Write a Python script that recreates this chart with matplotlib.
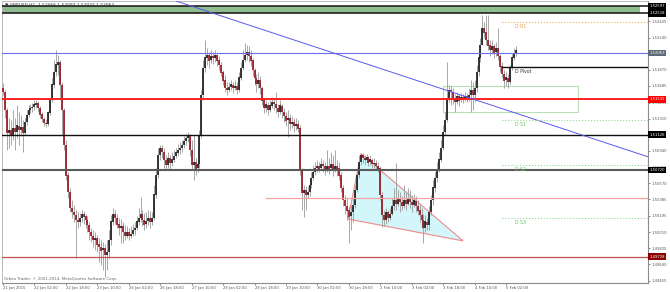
"""
GBPUSD H1 chart (MetaTrader style) with support/resistance lines,
daily pivots, a falling wedge triangle and a descending trend line.
"""

import matplotlib
matplotlib.use('Agg')
import matplotlib.pyplot as plt
from matplotlib.patches import Polygon, Rectangle
import numpy as np

header_text = "\u25bc GBPUSD,H1  1.52066 1.52093 1.52032 1.52063"
copyright_text = "Orbex Trader, \u00a9 2001-2014, MetaQuotes Software Corp."

# hourly bars, open of each bar = close of the previous one
first_open = 1.5166
closes = [
    1.5162, 1.5141, 1.5115, 1.5118, 1.5112, 1.5120, 1.5116, 1.5123, 1.5118, 1.5121,
    1.5115, 1.5127, 1.5135, 1.5141, 1.5143, 1.5144, 1.5147, 1.5149, 1.5143, 1.5136,
    1.5131, 1.5126, 1.5125, 1.5138, 1.5152, 1.5170, 1.5184, 1.5193, 1.5196, 1.5170,
    1.5141, 1.5101, 1.5066, 1.5047, 1.5029, 1.5024, 1.5021, 1.5015, 1.5013, 1.5017,
    1.5022, 1.5019, 1.5015, 1.5009, 1.5001, 1.4997, 1.4992, 1.4994, 1.4987, 1.4984,
    1.4980, 1.4983, 1.4975, 1.4978, 1.4992, 1.5013, 1.5022, 1.5017, 1.5010, 1.5006,
    1.5008, 1.5001, 1.4997, 1.5001, 1.4997, 1.4999, 1.5003, 1.5006, 1.5013, 1.5017,
    1.5022, 1.5015, 1.5010, 1.5014, 1.5017, 1.5013, 1.5017, 1.5044, 1.5066, 1.5089,
    1.5097, 1.5093, 1.5084, 1.5078, 1.5086, 1.5080, 1.5084, 1.5088, 1.5092, 1.5095,
    1.5097, 1.5101, 1.5105, 1.5109, 1.5111, 1.5095, 1.5078, 1.5081, 1.5074, 1.5079,
    1.5112, 1.5158, 1.5189, 1.5201, 1.5204, 1.5198, 1.5203, 1.5201, 1.5204, 1.5198,
    1.5193, 1.5184, 1.5175, 1.5166, 1.5164, 1.5167, 1.5170, 1.5166, 1.5168, 1.5164,
    1.5178, 1.5189, 1.5198, 1.5204, 1.5207, 1.5203, 1.5198, 1.5187, 1.5178, 1.5171,
    1.5175, 1.5166, 1.5152, 1.5143, 1.5147, 1.5141, 1.5146, 1.5150, 1.5148, 1.5143,
    1.5139, 1.5146, 1.5139, 1.5134, 1.5129, 1.5132, 1.5125, 1.5127, 1.5123, 1.5125,
    1.5120, 1.5072, 1.5046, 1.5049, 1.5044, 1.5047, 1.5055, 1.5063, 1.5070, 1.5074,
    1.5077, 1.5074, 1.5079, 1.5077, 1.5072, 1.5077, 1.5074, 1.5079, 1.5072, 1.5077,
    1.5074, 1.5066, 1.5052, 1.5038, 1.5031, 1.5026, 1.5019, 1.5024, 1.5032, 1.5049,
    1.5066, 1.5081, 1.5089, 1.5086, 1.5084, 1.5087, 1.5081, 1.5084, 1.5079, 1.5080,
    1.5077, 1.5074, 1.5044, 1.5021, 1.5015, 1.5024, 1.5017, 1.5022, 1.5031, 1.5038,
    1.5033, 1.5040, 1.5036, 1.5031, 1.5038, 1.5033, 1.5040, 1.5036, 1.5032, 1.5037,
    1.5031, 1.5026, 1.5021, 1.5015, 1.5006, 1.5013, 1.5009, 1.5024, 1.5038, 1.5052,
    1.5063, 1.5072, 1.5084, 1.5097, 1.5116, 1.5129, 1.5155, 1.5164, 1.5162, 1.5155,
    1.5150, 1.5157, 1.5152, 1.5156, 1.5154, 1.5157, 1.5155, 1.5158, 1.5164, 1.5158,
    1.5166, 1.5184, 1.5201, 1.5215, 1.5235, 1.5230, 1.5221, 1.5215, 1.5210, 1.5214,
    1.5207, 1.5212, 1.5203, 1.5191, 1.5182, 1.5175, 1.5178, 1.5173, 1.5189, 1.5201,
    1.5205, 1.5209,
]
highs = [
    1.5172, 1.5164, 1.5143, 1.5132, 1.5129, 1.5141, 1.5132, 1.5147, 1.5139, 1.5135,
    1.5129, 1.5132, 1.5141, 1.5147, 1.5148, 1.5149, 1.5152, 1.5152, 1.5151, 1.5146,
    1.5139, 1.5133, 1.5131, 1.5140, 1.5155, 1.5178, 1.5198, 1.5210, 1.5204, 1.5198,
    1.5173, 1.5143, 1.5107, 1.5070, 1.5052, 1.5038, 1.5032, 1.5026, 1.5024, 1.5023,
    1.5026, 1.5025, 1.5022, 1.5019, 1.5013, 1.5006, 1.5003, 1.5001, 1.4998, 1.4994,
    1.4992, 1.4990, 1.4987, 1.4992, 1.5003, 1.5021, 1.5029, 1.5026, 1.5022, 1.5017,
    1.5016, 1.5013, 1.5009, 1.5008, 1.5006, 1.5008, 1.5010, 1.5013, 1.5019, 1.5029,
    1.5041, 1.5026, 1.5023, 1.5024, 1.5026, 1.5025, 1.5024, 1.5055, 1.5074, 1.5097,
    1.5101, 1.5101, 1.5097, 1.5089, 1.5093, 1.5089, 1.5093, 1.5095, 1.5097, 1.5102,
    1.5104, 1.5107, 1.5111, 1.5113, 1.5116, 1.5113, 1.5107, 1.5112, 1.5086, 1.5084,
    1.5118, 1.5164, 1.5198, 1.5221, 1.5212, 1.5207, 1.5210, 1.5207, 1.5210, 1.5205,
    1.5203, 1.5196, 1.5187, 1.5181, 1.5173, 1.5173, 1.5175, 1.5173, 1.5175, 1.5173,
    1.5184, 1.5196, 1.5210, 1.5218, 1.5215, 1.5214, 1.5210, 1.5201, 1.5189, 1.5182,
    1.5184, 1.5180, 1.5168, 1.5155, 1.5152, 1.5150, 1.5152, 1.5156, 1.5155, 1.5162,
    1.5148, 1.5152, 1.5148, 1.5143, 1.5139, 1.5141, 1.5136, 1.5134, 1.5132, 1.5132,
    1.5129, 1.5124, 1.5074, 1.5055, 1.5054, 1.5054, 1.5061, 1.5070, 1.5078, 1.5081,
    1.5084, 1.5081, 1.5086, 1.5084, 1.5081, 1.5095, 1.5086, 1.5093, 1.5089, 1.5095,
    1.5084, 1.5081, 1.5070, 1.5055, 1.5044, 1.5040, 1.5031, 1.5032, 1.5040, 1.5055,
    1.5072, 1.5089, 1.5092, 1.5092, 1.5089, 1.5091, 1.5088, 1.5089, 1.5086, 1.5086,
    1.5084, 1.5081, 1.5077, 1.5047, 1.5026, 1.5029, 1.5026, 1.5029, 1.5040, 1.5052,
    1.5080, 1.5049, 1.5047, 1.5042, 1.5055, 1.5047, 1.5052, 1.5049, 1.5044, 1.5045,
    1.5042, 1.5038, 1.5032, 1.5029, 1.5022, 1.5021, 1.5017, 1.5031, 1.5044, 1.5061,
    1.5070, 1.5081, 1.5093, 1.5107, 1.5124, 1.5139, 1.5196, 1.5170, 1.5168, 1.5166,
    1.5159, 1.5162, 1.5159, 1.5160, 1.5159, 1.5162, 1.5160, 1.5166, 1.5175, 1.5173,
    1.5175, 1.5193, 1.5207, 1.5223, 1.5250, 1.5242, 1.5250, 1.5250, 1.5221, 1.5221,
    1.5217, 1.5219, 1.5235, 1.5205, 1.5196, 1.5187, 1.5184, 1.5182, 1.5193, 1.5205,
    1.5212, 1.5214,
]
lows = [
    1.5158, 1.5132, 1.5095, 1.5097, 1.5101, 1.5107, 1.5095, 1.5109, 1.5101, 1.5111,
    1.5093, 1.5112, 1.5124, 1.5133, 1.5138, 1.5139, 1.5141, 1.5143, 1.5139, 1.5132,
    1.5127, 1.5123, 1.5121, 1.5123, 1.5135, 1.5150, 1.5166, 1.5180, 1.5181, 1.5152,
    1.5112, 1.5095, 1.5061, 1.5040, 1.5024, 1.5017, 1.5013, 1.4971, 1.5006, 1.5008,
    1.5013, 1.5010, 1.5006, 1.5001, 1.4992, 1.4990, 1.4984, 1.4980, 1.4978, 1.4967,
    1.4963, 1.4958, 1.4950, 1.4958, 1.4971, 1.4986, 1.5009, 1.5010, 1.5006, 1.4998,
    1.4989, 1.4989, 1.4992, 1.4994, 1.4992, 1.4994, 1.4997, 1.4998, 1.5003, 1.5009,
    1.5013, 1.5008, 1.5003, 1.5006, 1.5009, 1.5006, 1.5009, 1.5015, 1.5040, 1.5063,
    1.5084, 1.5086, 1.5074, 1.5072, 1.5074, 1.5072, 1.5077, 1.5081, 1.5086, 1.5088,
    1.5091, 1.5093, 1.5097, 1.5101, 1.5104, 1.5088, 1.5072, 1.5061, 1.5066, 1.5070,
    1.5074, 1.5109, 1.5152, 1.5184, 1.5193, 1.5189, 1.5195, 1.5194, 1.5196, 1.5191,
    1.5187, 1.5180, 1.5170, 1.5162, 1.5158, 1.5162, 1.5164, 1.5160, 1.5164, 1.5159,
    1.5162, 1.5175, 1.5187, 1.5196, 1.5198, 1.5196, 1.5191, 1.5180, 1.5170, 1.5162,
    1.5166, 1.5159, 1.5147, 1.5138, 1.5139, 1.5135, 1.5139, 1.5143, 1.5141, 1.5138,
    1.5133, 1.5136, 1.5132, 1.5127, 1.5123, 1.5110, 1.5118, 1.5120, 1.5116, 1.5118,
    1.5116, 1.5066, 1.5026, 1.5018, 1.5026, 1.5040, 1.5042, 1.5052, 1.5061, 1.5066,
    1.5070, 1.5070, 1.5072, 1.5070, 1.5066, 1.5070, 1.5068, 1.5072, 1.5065, 1.5070,
    1.5065, 1.5061, 1.5047, 1.5031, 1.5022, 1.5015, 1.4989, 1.5003, 1.5013, 1.5029,
    1.5047, 1.5063, 1.5078, 1.5080, 1.5078, 1.5081, 1.5077, 1.5078, 1.5074, 1.5074,
    1.5072, 1.5070, 1.5038, 1.5007, 1.5008, 1.5010, 1.5013, 1.5015, 1.5021, 1.5026,
    1.5026, 1.5031, 1.5024, 1.5026, 1.5029, 1.5026, 1.5032, 1.5029, 1.5024, 1.5030,
    1.5024, 1.5021, 1.5013, 1.5006, 1.4989, 1.5001, 1.5003, 1.5003, 1.5021, 1.5032,
    1.5047, 1.5058, 1.5070, 1.5081, 1.5095, 1.5112, 1.5127, 1.5150, 1.5147, 1.5148,
    1.5139, 1.5148, 1.5146, 1.5150, 1.5149, 1.5151, 1.5150, 1.5151, 1.5139, 1.5141,
    1.5150, 1.5162, 1.5180, 1.5196, 1.5215, 1.5223, 1.5215, 1.5210, 1.5203, 1.5205,
    1.5201, 1.5203, 1.5198, 1.5184, 1.5178, 1.5166, 1.5168, 1.5166, 1.5171, 1.5187,
    1.5198, 1.5203,
]

time_labels = ["21 Jan 2015", "22 Jan 02:00", "22 Jan 18:00", "23 Jan 10:00",
               "26 Jan 02:00", "26 Jan 18:00", "27 Jan 10:00", "28 Jan 02:00",
               "28 Jan 18:00", "29 Jan 10:00", "30 Jan 02:00", "30 Jan 18:00",
               "2 Feb 10:00", "3 Feb 02:00", "3 Feb 18:00", "4 Feb 10:00",
               "5 Feb 02:00"]
bars_per_label = 16

price_ticks = [1.49455, 1.49640, 1.49825, 1.50010, 1.50195, 1.50385, 1.50570,
               1.50755, 1.50940, 1.51125, 1.51310, 1.51495, 1.51685, 1.51870,
               1.52055, 1.52240, 1.52425]
# scale labels that sit under a price box in the reference
hidden_ticks = [1.51125, 1.52055]

# resistance band at the top
band_top = 1.52597
band_bottom = 1.52518
band_end_bar = 324

bid_price = 1.52063

# horizontal levels
level_prices = [1.51532, 1.51126, 1.50720, 1.49728]
level_colors = ['#ff2020', '#111111', '#5a5a5a', '#c0504d']
level_boxes = ['#ff0000', '#000000', '#000000', '#8b0000']
level_widths = [1.4, 1.0, 1.5, 0.9]

# daily pivots, drawn from the start of 5 Feb
pivot_start_bar = 254
pivot_names = ["D R1", "D Pivot", "D S1", "D S2", "D S3"]
pivot_prices = [1.5242, 1.5190, 1.5129, 1.5078, 1.5017]

# drawn objects (bar index, price)
trend_p1 = (90.6, 1.5264)
trend_p2 = (328.7, 1.5087)
wedge = [(182.2, 1.5091), (175.6, 1.5016), (234.1, 1.4991)]
pink_start_bar = 133.8
pink_price = 1.5040
box_bars = (223.9, 292.6)
box_prices = (1.5139, 1.5168)

W, H = 670, 292
fig = plt.figure(figsize=(W / 100, H / 100), dpi=100, facecolor='white')
ax = fig.add_axes([2 / W, 9 / H, 646 / W, 282 / H], facecolor='white')
ax.set_xlim(-0.5, 328.25)
ax.set_ylim(1.49427, 1.52659)

closes = np.array(closes)
highs = np.array(highs)
lows = np.array(lows)
opens = np.r_[first_open, closes[:-1]]
idx = np.arange(len(closes))
up = closes >= opens

# background objects
ax.add_patch(Rectangle((-0.5, band_bottom), band_end_bar + 0.5, band_top - band_bottom,
                       facecolor='#8fbc8f', edgecolor='none', zorder=1))
ax.add_patch(Polygon(wedge, closed=True, facecolor='#d2f6fa', edgecolor='#f08a8a',
                     lw=0.8, zorder=1))
ax.add_patch(Rectangle((box_bars[0], box_prices[0]), box_bars[1] - box_bars[0],
                       box_prices[1] - box_prices[0], facecolor='none',
                       edgecolor='#b8deb4', lw=0.8, zorder=1))

# candles
ax.vlines(idx, lows, highs, color='#9a9a9a', lw=0.6, zorder=3)
ax.vlines(idx[up], opens[up], closes[up] + 0.00003, color='#1e1e1e', lw=1.25, zorder=4)
ax.vlines(idx[~up], closes[~up] - 0.00003, opens[~up], color='#951a22', lw=1.25, zorder=4)

# lines
for p in (band_top, band_bottom):
    ax.axhline(p, color='#111111', lw=1.1, zorder=5)
ax.axhline(bid_price, color='#6d6df0', lw=0.8, zorder=5)
for p, c, w in zip(level_prices, level_colors, level_widths):
    ax.axhline(p, color=c, lw=w, zorder=5)
ax.plot([pink_start_bar, 330], [pink_price, pink_price], color='#f4a3a3', lw=0.9, zorder=5)
ax.axline(trend_p1, trend_p2, color='#5a5af0', lw=0.7, zorder=5)

pivot_styles = [('#f5b35a', ':', '#f0a040'), ('#111111', '-', '#333333'),
                ('#8fdc8f', ':', '#66c466'), ('#8fdc8f', ':', '#66c466'),
                ('#8fdc8f', ':', '#66c466')]
for name, p, (lc, ls, tc) in zip(pivot_names, pivot_prices, pivot_styles):
    ax.plot([pivot_start_bar, 330], [p, p], color=lc, ls=ls, lw=1.0 if ls == '-' else 0.8,
            zorder=5)
    ax.annotate(name, (pivot_start_bar + 6.5, p), xytext=(0, -1.2),
                textcoords='offset points', fontsize=3.3, color=tc, va='top', ha='left',
                zorder=6)

# axes look
for side in ('left', 'top'):
    ax.spines[side].set_color('#b0b0b0')
    ax.spines[side].set_linewidth(0.6)
for side in ('right', 'bottom'):
    ax.spines[side].set_color('#8c8c8c')
    ax.spines[side].set_linewidth(0.8)

ax.yaxis.tick_right()
ax.set_yticks(price_ticks)
ax.set_yticklabels(["" if p in hidden_ticks else f"{p:.5f}" for p in price_ticks])
ax.tick_params(axis='y', which='both', length=1.5, width=0.5, pad=1.2,
               labelsize=2.7, colors='#555555')
ax.set_xticks(np.arange(len(time_labels)) * bars_per_label)
ax.set_xticklabels(time_labels, ha='left')
ax.tick_params(axis='x', length=1.5, width=0.5, pad=0.8, labelsize=2.7, colors='#555555')

# price boxes on the scale
boxes = [(band_top, '#000000'), (band_bottom, '#000000'), (bid_price, '#5d6a78')]
boxes += list(zip(level_prices, level_boxes))
for p, c in boxes:
    ax.text(1.0025, p, f"{p:.5f}", transform=ax.get_yaxis_transform(), fontsize=2.7,
            color='white', ha='left', va='center', clip_on=False, zorder=10,
            bbox=dict(boxstyle='square,pad=0.35', fc=c, ec=c, lw=0))

ax.text(3 / 646, 1 - 4 / 282, header_text, transform=ax.transAxes, fontsize=3.2,
        color='#333333', ha='left', va='center', zorder=10)
ax.text(2 / 646, 4 / 282, copyright_text, transform=ax.transAxes, fontsize=2.9,
        color='#666666', ha='left', va='center', zorder=10)

fig.savefig('out.png', dpi=100, facecolor='white')
